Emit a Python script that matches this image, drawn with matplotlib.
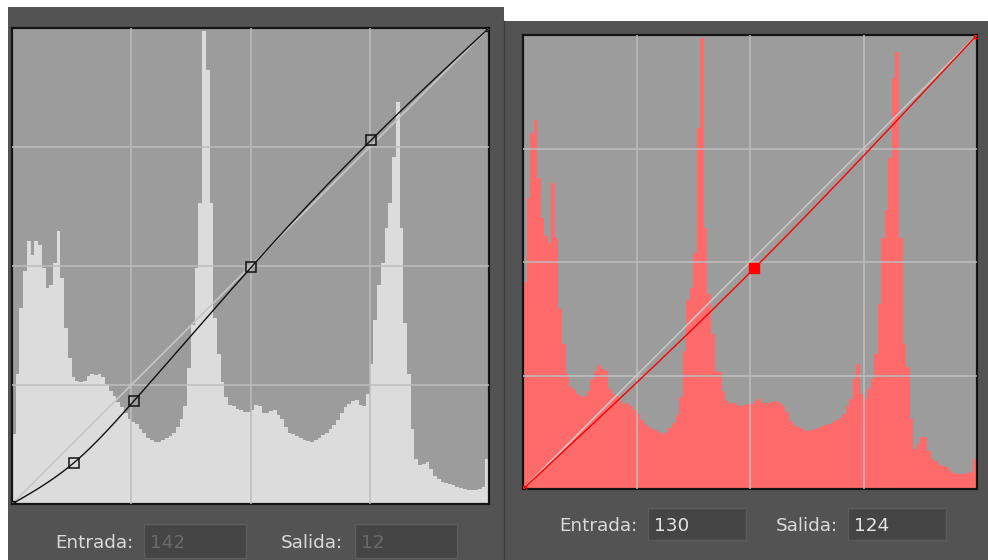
import numpy as np
import matplotlib
matplotlib.use("Agg")
import matplotlib.pyplot as plt
from matplotlib.patches import Rectangle

# histogram heights, percent of the box height, 128 bins of 2 levels each
gray_hist = [
    14.8, 27.4, 41.1, 48.9, 55.3, 52.3, 55.3, 54.4, 49.6, 45.4, 46.0, 50.6, 57.4, 47.5, 36.9, 30.6,
    26.6, 25.9, 25.7, 25.9, 26.8, 27.4, 27.2, 27.4, 26.6, 25.3, 23.8, 22.6, 21.5, 20.3, 19.2, 17.9,
    17.3, 16.9, 15.8, 15.0, 13.9, 13.5, 13.1, 13.1, 13.5, 13.9, 14.3, 15.0, 16.2, 17.9, 20.5, 28.5,
    37.6, 49.6, 63.3, 99.4, 91.1, 63.3, 39.0, 31.6, 25.7, 22.4, 20.9, 20.5, 20.0, 19.8, 19.4, 19.4,
    19.8, 20.7, 20.5, 19.2, 19.2, 19.6, 19.8, 18.8, 17.9, 16.2, 15.0, 14.8, 14.3, 13.9, 13.5, 13.3,
    13.1, 13.5, 13.9, 14.6, 15.0, 15.8, 16.7, 17.7, 19.2, 20.3, 21.1, 21.7, 21.9, 20.9, 20.5, 23.2,
    29.5, 38.6, 46.0, 50.6, 58.0, 63.3, 72.8, 84.4, 58.0, 38.0, 27.4, 15.8, 9.5, 8.2, 8.4, 8.9,
    7.4, 5.9, 5.3, 4.6, 4.4, 4.2, 4.0, 3.6, 3.4, 3.2, 3.0, 3.0, 3.0, 3.2, 3.6, 9.5,
]
red_hist = [
    45.7, 64.0, 78.4, 81.2, 68.4, 59.6, 55.8, 54.1, 67.3, 55.2, 39.7, 32.0, 25.4, 22.5, 21.9, 21.0,
    20.3, 20.5, 21.6, 24.3, 26.0, 27.4, 26.5, 26.0, 22.1, 21.0, 20.5, 19.4, 18.8, 19.0, 18.3, 17.4,
    16.6, 15.2, 14.3, 13.7, 13.2, 13.0, 12.6, 12.1, 12.6, 13.5, 14.6, 16.3, 20.3, 30.5, 41.7, 44.2,
    51.9, 79.5, 99.3, 57.4, 43.0, 34.2, 26.0, 25.8, 21.6, 19.4, 18.8, 19.0, 18.5, 18.3, 18.5, 18.8,
    18.8, 19.4, 19.9, 19.0, 19.0, 19.0, 19.2, 19.4, 19.0, 18.3, 17.0, 15.0, 14.1, 13.7, 13.5, 13.0,
    12.8, 13.0, 13.2, 13.5, 13.9, 14.1, 14.3, 14.8, 15.2, 15.7, 16.6, 18.3, 19.9, 24.3, 27.6, 21.0,
    19.9, 22.1, 24.3, 29.8, 40.8, 55.2, 61.4, 72.8, 90.5, 96.2, 55.2, 32.0, 26.9, 15.5, 8.8, 9.9,
    11.5, 11.5, 8.4, 6.6, 6.2, 5.3, 5.1, 4.9, 4.0, 3.5, 3.3, 3.3, 3.3, 3.5, 3.8, 6.6,
]

# curve control points (input, output)
gray_in = [0, 33, 65, 128, 192, 255]
gray_out = [0, 22, 55, 127, 195, 255]
red_in = [0, 130, 255]
red_out = [0, 124, 255]

W, H = 988, 560
BG = "#535353"


def natural_spline(xs, ys, t):
    xs = np.asarray(xs, float)
    ys = np.asarray(ys, float)
    n = len(xs)
    h = np.diff(xs)
    A = np.zeros((n, n))
    b = np.zeros(n)
    A[0, 0] = A[-1, -1] = 1
    for i in range(1, n - 1):
        A[i, i - 1] = h[i - 1]
        A[i, i] = 2 * (h[i - 1] + h[i])
        A[i, i + 1] = h[i]
        b[i] = 3 * ((ys[i + 1] - ys[i]) / h[i] - (ys[i] - ys[i - 1]) / h[i - 1])
    c = np.linalg.solve(A, b)
    bb = (ys[1:] - ys[:-1]) / h - h * (2 * c[:-1] + c[1:]) / 3
    d = (c[1:] - c[:-1]) / (3 * h)
    k = np.clip(np.searchsorted(xs, t) - 1, 0, n - 2)
    dx = t - xs[k]
    return np.clip(ys[k] + bb[k] * dx + c[k] * dx ** 2 + d[k] * dx ** 3, 0, 255)


def curve_panel(box, hist, hist_color, pts_in, pts_out, line_color, filled):
    x0, y0, x1, y1 = box
    ax = fig.add_axes([x0 / W, (H - y1) / H, (x1 - x0) / W, (y1 - y0) / H])
    ax.set_facecolor("#9c9c9c")
    ax.set_xlim(0, 255)
    ax.set_ylim(0, 255)
    ax.set_xticks([])
    ax.set_yticks([])
    for s in ax.spines.values():
        s.set_color("#141414")
        s.set_linewidth(1.6)

    edges = np.linspace(0, 255, len(hist) + 1)
    ax.stairs(np.array(hist) * 2.55, edges, fill=True, color=hist_color, linewidth=0)

    for g in (63.75, 127.5, 191.25):
        ax.axvline(g, color="#bdbdbd", lw=1.1, zorder=3)
        ax.axhline(g, color="#bdbdbd", lw=1.1, zorder=3)

    ax.plot([0, 255], [0, 255], color="#c6c6c6", lw=1.2, zorder=4)

    t = np.linspace(0, 255, 600)
    ax.plot(t, natural_spline(pts_in, pts_out, t), color=line_color, lw=1.0, zorder=5)

    mid_in, mid_out = pts_in[1:-1], pts_out[1:-1]
    if filled:
        ax.plot(mid_in, mid_out, "s", ms=6.5, color=line_color, zorder=6)
    else:
        ax.plot(mid_in, mid_out, "s", ms=7.7, mfc="none", mec=line_color, mew=1.1, zorder=6)
    ax.plot([pts_in[0], pts_in[-1]], [pts_out[0], pts_out[-1]], "s", ms=5, mfc="none",
            mec=line_color, mew=1.0, zorder=6)
    return ax


fig = plt.figure(figsize=(W / 100, H / 100), dpi=100, facecolor="white")

bg = fig.add_axes([0, 0, 1, 1])
bg.set_xlim(0, W)
bg.set_ylim(H, 0)
bg.axis("off")
bg.add_patch(Rectangle((8, 7), 496, 553, color=BG, lw=0))
bg.add_patch(Rectangle((504, 21), 484, 539, color=BG, lw=0))
bg.plot([504, 504], [21, 560], color="#3c3c3c", lw=1.0)

curve_panel((12, 28, 489, 504), gray_hist, "#dcdcdc", gray_in, gray_out, "#111111", False)
curve_panel((523, 35, 977, 489), red_hist, "#ff6b6b", red_in, red_out, "#ff0000", True)

# input / output fields
fields = [
    # label, label right x, box x0, box x1, box y0, box y1, value, value colour
    ("Entrada:", 133, 144, 246, 524, 558, "142", "#6a6a6a"),
    ("Salida:", 343, 355, 457, 524, 558, "12", "#6a6a6a"),
    ("Entrada:", 637, 648, 746, 508, 540, "130", "#e4e4e4"),
    ("Salida:", 838, 848, 946, 508, 540, "124", "#e4e4e4"),
]
for label, lx, bx0, bx1, by0, by1, val, vcol in fields:
    base = (by0 + by1) / 2 + 7
    bg.add_patch(Rectangle((bx0, by0), bx1 - bx0, by1 - by0, facecolor="#454545",
                           edgecolor="#5c5c5c", lw=1.0))
    bg.text(lx, base, label, ha="right", va="baseline", fontsize=13.2, color="#dadada",
            family="DejaVu Sans")
    bg.text(bx0 + 6, base, val, ha="left", va="baseline", fontsize=13.2, color=vcol,
            family="DejaVu Sans")

fig.savefig("out.png", dpi=100, facecolor="white")
